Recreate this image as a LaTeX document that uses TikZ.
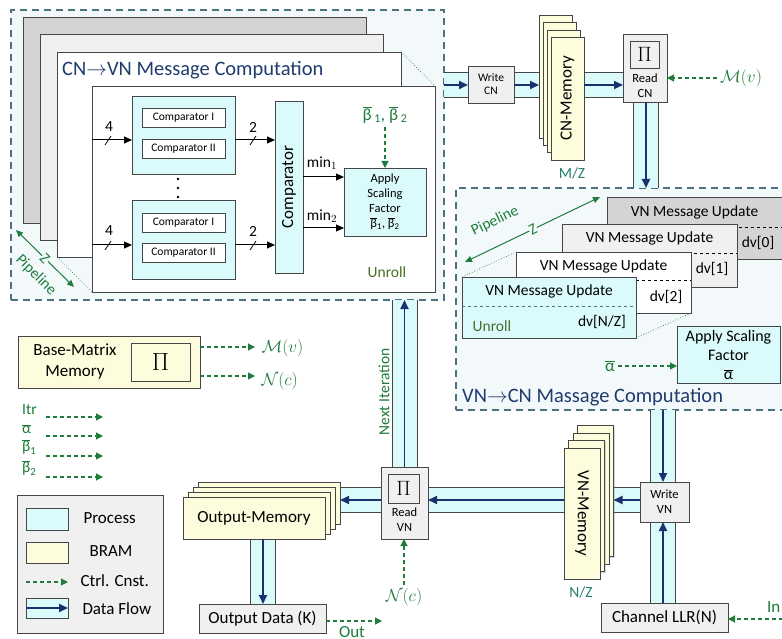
\documentclass[tikz,border=0pt]{standalone}
\usepackage{fontspec}
\setmainfont{Carlito}
\usetikzlibrary{arrows.meta,calc,shadows}
\definecolor{procfill}{RGB}{218,250,252}
\definecolor{bramfill}{RGB}{253,252,220}
\definecolor{grayfill}{RGB}{240,240,240}
\definecolor{darkgrayfill}{RGB}{212,212,212}
\definecolor{edgegray}{RGB}{70,70,70}
\definecolor{flowblue}{RGB}{25,50,110}
\definecolor{ctrlgreen}{RGB}{30,125,60}
\definecolor{titleblue}{RGB}{30,60,110}
\definecolor{dashedge}{RGB}{75,115,125}
\definecolor{regionfill}{RGB}{243,249,250}
\definecolor{tealtext}{RGB}{40,125,115}
\definecolor{olivetext}{RGB}{70,110,40}
\pgfdeclarelayer{regions}
\pgfdeclarelayer{bands}
\pgfsetlayers{regions,bands,main}
\newcommand\bx[7][]{\node[inner sep=0pt,outer sep=0pt,minimum width={(#5)-(#3)},minimum height={(#6)-(#4)},#1] (#2) at ({((#3)+(#5))/2},{((#4)+(#6))/2}) {#7};}
\newcommand\ovl[1]{$\overline{\hbox{#1}}$}
\newcommand\hband[2]{%
  \begin{pgfonlayer}{bands}
  \fill[procfill] ($(#1)+(0,-12.5)$) rectangle ($(#2)+(0,12.5)$);
  \draw[bandedge] ($(#1)+(0,-12.5)$) -- ($(#2)+(0,-12.5)$) ($(#1)+(0,12.5)$) -- ($(#2)+(0,12.5)$);
  \end{pgfonlayer}
  \draw[flow] (#1) -- (#2);}
\newcommand\vband[2]{%
  \begin{pgfonlayer}{bands}
  \fill[procfill] ($(#1)+(-12.5,0)$) rectangle ($(#2)+(12.5,0)$);
  \draw[bandedge] ($(#1)+(-12.5,0)$) -- ($(#2)+(-12.5,0)$) ($(#1)+(12.5,0)$) -- ($(#2)+(12.5,0)$);
  \end{pgfonlayer}
  \draw[flow] (#1) -- (#2);}
\tikzset{
  box/.style={draw=edgegray,line width=0.9pt,align=center,text=black},
  proc/.style={box,fill=procfill},
  bram/.style={box,fill=bramfill,drop shadow={shadow xshift=1.2pt,shadow yshift=-1.2pt,opacity=0.3}},
  gbox/.style={box,fill=grayfill,drop shadow={shadow xshift=1.2pt,shadow yshift=-1.2pt,opacity=0.35}},
  region/.style={draw=dashedge,fill=regionfill,line width=1.4pt,dash pattern=on 7pt off 5pt},
  ctrl/.style={draw=ctrlgreen,line width=1.2pt,dash pattern=on 4pt off 3pt,-{Triangle[length=7pt,width=7pt]}},
  flow/.style={draw=flowblue,line width=1.8pt,-{Triangle[length=9pt,width=8pt]}},
  bandedge/.style={draw=edgegray,line width=0.9pt},
  blk/.style={draw=black,line width=1pt,-{Triangle[length=8pt,width=7pt]}},
  pipe/.style={draw=ctrlgreen,line width=1pt,{Triangle[length=7pt,width=6pt]}-{Triangle[length=7pt,width=6pt]}},
  dots/.style={draw=ctrlgreen,dotted,line width=0.7pt},
  green/.style={text=ctrlgreen},
  f11/.style={font=\fontsize{11.5}{13}\selectfont},
  f12/.style={font=\fontsize{12.5}{15}\selectfont},
  f15/.style={font=\fontsize{15.5}{18}\selectfont},
  f17/.style={font=\fontsize{17}{21}\selectfont},
  f20/.style={font=\fontsize{20.5}{24}\selectfont},
}
\begin{document}
\begin{tikzpicture}[x=1pt,y=-1pt]
\clip (0,0) rectangle (782,639);

% ---------- regions ----------
\begin{pgfonlayer}{regions}
\fill[white] (0,0) rectangle (782,639);
\bx[region]{cnreg}{11}{10}{444}{300}{}
\bx[region]{vnreg}{456}{188}{800}{410}{}
\end{pgfonlayer}

% ---------- CN -> VN ----------
\bx[box,fill=darkgrayfill]{cnc1}{23}{17}{366}{223}{}
\bx[box,fill=grayfill]{cnc2}{40}{34}{383}{240}{}
\bx[box,fill=white]{cnc3}{57}{52}{401}{257}{}
\node[f20,text=titleblue,anchor=west,inner sep=0pt] (cntitle) at (62,70) {CN$\rightarrow$VN Message Computation};
\bx[box,fill=white]{cnc4}{92}{86}{435}{292}{}
\draw[dots] (cnc3.north east) -- (cnc4.north east);
\draw[dots] (cnc3.south west) -- (cnc4.south west);

\bx[proc]{g1}{132}{96}{235}{174}{}
\bx[box,fill=white,f11]{g1a}{142}{108}{225}{127}{Comparator I}
\bx[box,fill=white,f11]{g1b}{142}{139}{225}{158}{Comparator II}
\bx[proc]{g2}{132}{200}{235}{279}{}
\bx[box,fill=white,f11]{g2a}{142}{213}{225}{232}{Comparator I}
\bx[box,fill=white,f11]{g2b}{142}{243}{225}{262}{Comparator II}
\foreach \yy in {179,188,197} \fill (178,\yy) circle (1.3);
\bx[proc,f17]{cmp}{275}{101}{303}{273}{\rotatebox{90}{Comparator}}
\bx[proc,f12]{asf}{344}{168}{426}{236}{Apply\\Scaling\\Factor\\\ovl{β}\textsubscript{1}, \ovl{β}\textsubscript{2}}

\coordinate (i1) at (cnc4.west |- 0,140);
\coordinate (i2) at (cnc4.west |- 0,245);
\draw[blk] (i1) -- (g1.west |- i1);
\draw[blk] (i2) -- (g2.west |- i2);
\draw[blk] (g1.east |- i1) -- (cmp.west |- i1);
\draw[blk] (g2.east |- i2) -- (cmp.west |- i2);
\draw[line width=0.8pt] (105,145) -- (111,136) (105,250) -- (111,241);
\draw[line width=0.8pt] (250,145) -- (256,136) (250,250) -- (256,241);
\node[f15] (n4a) at (109,127) {4};
\node[f15] (n4b) at (109,231) {4};
\node[f15] (n2a) at (253,127) {2};
\node[f15] (n2b) at (253,231) {2};
\coordinate (m1) at (cmp.east |- 0,177);
\coordinate (m2) at (cmp.east |- 0,228);
\draw[blk] (m1) -- (asf.west |- m1);
\draw[blk] (m2) -- (asf.west |- m2);
\node[f15] (min1) at (322,163) {$\mathrm{min}_1$};
\node[f15] (min2) at (322,216) {$\mathrm{min}_2$};
\node[f17,green] (betalab) at (385,115) {\ovl{β}\,\textsubscript{1}, \ovl{β}\,\textsubscript{2}};
\draw[ctrl] (betalab.south) -- (asf.north);
\node[f15,text=olivetext] (unroll1) at (387,272) {Unroll};

\coordinate (pl1) at (16,230);
\coordinate (pl2) at (74,287);
\draw[pipe] (pl1) -- (pl2);
\node[f15,green,fill=regionfill,inner sep=0.3pt,rotate=-45] (plz) at ($(pl1)!0.5!(pl2)$) {Z};
\node[f15,green,rotate=-45,inner sep=0pt] (pltxt) at (36,275) {Pipeline};

% ---------- top right ----------
\bx[gbox,f11]{wcn}{468}{66}{514}{103}{Write\\CN}
\bx[bram]{cnm4}{539}{15}{572}{138}{}
\bx[bram]{cnm3}{543}{22}{576}{145}{}
\bx[bram]{cnm2}{547}{30}{580}{152}{}
\bx[bram,f17]{cnm1}{551}{37}{584}{160}{\rotatebox{90}{CN-Memory}}
\node[f15,text=tealtext] (mz) at (572,173) {M/Z};
\bx[gbox]{rcn}{623}{34}{667}{102}{}
\bx[box,fill=grayfill,font=\fontsize{22}{22}\selectfont]{rcnpi}{630}{41}{659}{68}{$\Pi$}
\node[f12,align=center,inner sep=0pt] (rcntxt) at (645,86) {Read\\CN};
\node[f17,green] (mvlab) at (741,78) {$\mathcal{M}(v)$};
\draw[ctrl] (mvlab.west) -- (rcn.east |- mvlab.west);

\coordinate (f1a) at (cnreg.east |- 0,85);
\coordinate (f1b) at (wcn.west |- 0,85);
\hband{f1a}{f1b}
\coordinate (f2a) at (wcn.east |- 0,85);
\coordinate (f2b) at (cnm4.west |- 0,85);
\hband{f2a}{f2b}
\coordinate (f3a) at (cnm1.east |- 0,85);
\coordinate (f3b) at (rcn.west |- 0,85);
\hband{f3a}{f3b}
\coordinate (f4a) at (rcn.south -| 646,0);
\coordinate (f4b) at (vnreg.north -| 646,0);
\vband{f4a}{f4b}

% ---------- VN -> CN region ----------
\bx[box,fill=darkgrayfill]{vc0}{607}{197}{782}{259}{}
\draw[dashed,line width=0.8pt] (607,227) -- (782,227);
\node[f15] (vc0t) at (694.5,212) {VN Message Update};
\node[f15] (vc0d) at (758,243) {dv[0]};
\bx[box,fill=grayfill]{vc1}{562}{224}{737}{287}{}
\draw[dashed,line width=0.8pt] (562,253) -- (737,253);
\node[f15] (vc1t) at (649.5,238) {VN Message Update};
\node[f15] (vc1d) at (712,269) {dv[1]};
\bx[box,fill=white]{vc2}{516}{252}{691}{313}{}
\draw[dashed,line width=0.8pt] (516,280) -- (691,280);
\node[f15] (vc2t) at (603.5,266) {VN Message Update};
\node[f15] (vc2d) at (666,297) {dv[2]};
\bx[proc]{vc3}{462}{277}{636}{338}{}
\draw[dashed,line width=0.8pt,draw=dashedge] (462,306) -- (636,306);
\node[f15] (vc3t) at (549,291) {VN Message Update};
\node[f15] (vc3d) at (602,322) {dv[N/Z]};
\node[f15,text=olivetext] (unroll2) at (492,326) {Unroll};
\draw[dots] (vc3.north west) -- (vc2.north west);
\draw[dots] (vc3.south east) -- (vc2.south east);
\coordinate (pr1) at (465,262);
\coordinate (pr2) at (600,197);
\draw[pipe] (pr1) -- (pr2);
\node[f15,green,fill=regionfill,inner sep=0.3pt,rotate=26] (prz) at (533,229) {Z};
\node[f15,green,rotate=26,inner sep=0pt] (prtxt) at (495,221) {Pipeline};
\bx[proc,font=\fontsize{16}{19}\selectfont]{asa}{677}{326}{780}{383}{Apply Scaling\\Factor\\\ovl{α}}
\node[f17,green] (alab) at (610,366) {\ovl{α}};
\draw[ctrl] (alab.east) -- (asa.west |- alab.east);
\node[f20,text=titleblue,anchor=west,inner sep=0pt] (vntitle) at (462,397) {VN$\rightarrow$CN Massage Computation};

% ---------- bottom right ----------
\bx[gbox,f12]{wvn}{640}{482}{689}{522}{Write\\VN}
\bx[gbox,f17]{llr}{601}{603}{728}{632}{Channel LLR(N)}
\coordinate (inpt) at (783,619);
\draw[ctrl] (inpt) -- (llr.east |- inpt);
\node[f17,green,anchor=west,inner sep=0pt] (inlab) at (767,607) {In};
\bx[bram]{vnm4}{577.5}{425.5}{613.5}{556.5}{}
\bx[bram]{vnm3}{573}{433}{609}{564}{}
\bx[bram]{vnm2}{568.5}{440.5}{604.5}{571.5}{}
\bx[bram,f17]{vnm1}{564}{448}{600}{579}{\rotatebox{-90}{VN-Memory}}
\node[f15,text=tealtext] (nz) at (581,592) {N/Z};
\bx[gbox]{rvn}{381}{467}{428}{539}{}
\bx[box,fill=grayfill,font=\fontsize{22}{22}\selectfont]{rvnpi}{388}{474}{419}{503}{$\Pi$}
\node[f12,align=center,inner sep=0pt] (rvntxt) at (404.5,520) {Read\\VN};
\node[f17,green] (nclab) at (404,597) {$\mathcal{N}(c)$};
\draw[ctrl] (nclab.north) -- (rvn.south -| nclab.north);
\node[f15,green,rotate=90] (nextit) at (384,392) {Next Iteration};

\coordinate (f5a) at (vnreg.south -| 663,0);
\coordinate (f5b) at (wvn.north -| 663,0);
\vband{f5a}{f5b}
\coordinate (f6a) at (llr.north -| 663,0);
\coordinate (f6b) at (wvn.south -| 663,0);
\vband{f6a}{f6b}
\coordinate (f7a) at (wvn.west |- 0,500);
\coordinate (f7b) at (vnm4.east |- 0,500);
\hband{f7a}{f7b}
\coordinate (f8a) at (vnm1.west |- 0,500);
\coordinate (f8b) at (rvn.east |- 0,500);
\hband{f8a}{f8b}
\coordinate (f9a) at (rvn.north -| 404.5,0);
\coordinate (f9b) at (cnreg.south -| 404.5,0);
\vband{f9a}{f9b}

% ---------- bottom left ----------
\bx[bram]{om4}{198}{482}{340}{524}{}
\bx[bram]{om3}{193}{487}{335}{529}{}
\bx[bram]{om2}{188}{492}{330}{534}{}
\bx[bram,f17]{om1}{183}{497}{325}{539}{Output-Memory}
\bx[gbox,f17]{odata}{199}{604}{326}{633}{Output Data (K)}
\coordinate (outpt) at (382,621);
\draw[ctrl] (odata.east |- outpt) -- (outpt);
\node[f17,green,inner sep=0pt] (outlab) at (352,632) {Out};
\coordinate (f10a) at (rvn.west |- 0,500);
\coordinate (f10b) at (om4.east |- 0,500);
\hband{f10a}{f10b}
\coordinate (f11a) at (om1.south -| 263,0);
\coordinate (f11b) at (odata.north -| 263,0);
\vband{f11a}{f11b}

\bx[bram]{bmm}{18}{336}{200}{388}{}
\node[f17,align=center,inner sep=0pt] (bmmtxt) at (75,362) {Base-Matrix\\Memory};
\bx[box,fill=bramfill,font=\fontsize{30}{30}\selectfont]{bmmpi}{131}{343}{190}{381}{$\Pi$}
\coordinate (bm1) at (255,347);
\coordinate (bm2) at (255,376);
\draw[ctrl] (bmm.east |- bm1) -- (bm1);
\draw[ctrl] (bmm.east |- bm2) -- (bm2);
\node[f17,green,anchor=west] (bmmv) at (258,348) {$\mathcal{M}(v)$};
\node[f17,green,anchor=west] (bmnc) at (258,381) {$\mathcal{N}(c)$};

\node[f15,green,anchor=west,inner sep=0pt] (itr) at (22,410) {Itr};
\node[f15,green,anchor=west,inner sep=0pt] (alf) at (22,429) {\ovl{α}};
\node[f15,green,anchor=west,inner sep=0pt] (b1) at (22,447) {\ovl{β}\textsubscript{1}};
\node[f15,green,anchor=west,inner sep=0pt] (b2) at (22,468) {\ovl{β}\textsubscript{2}};
\foreach \yy/\nm in {417/c1,436/c2,456/c3,477/c4}{
  \coordinate (\nm a) at (46,\yy);
  \coordinate (\nm b) at (103,\yy);
  \draw[ctrl] (\nm a) -- (\nm b);
}

\bx[box,fill=grayfill]{leg}{17}{495}{163}{633}{}
\bx[box,fill=procfill]{lp}{26}{508}{68}{530}{}
\node[f17,anchor=west] (lpt) at (80,518) {Process};
\bx[box,fill=bramfill]{lb}{26}{542}{68}{563}{}
\node[f17,anchor=west] (lbt) at (86,551) {BRAM};
\coordinate (lc1) at (26,582);
\coordinate (lc2) at (68,582);
\draw[ctrl] (lc1) -- (lc2);
\node[f17,anchor=west] (lct) at (77,581) {Ctrl. Cnst.};
\bx[box,fill=procfill]{ld}{26}{598}{68}{618}{}
\draw[flow] (ld.west) -- (ld.east);
\node[f17,anchor=west] (ldt) at (79,609) {Data Flow};
\end{tikzpicture}
\end{document}
